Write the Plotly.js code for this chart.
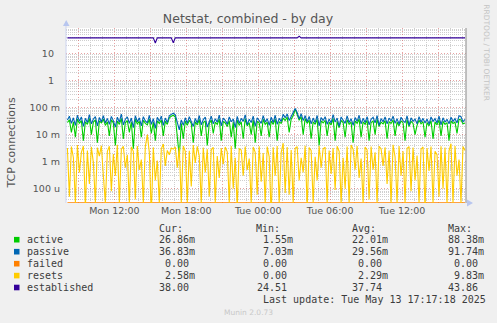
<!DOCTYPE html>
<html><head><meta charset="utf-8">
<script src="https://cdn.plot.ly/plotly-3.0.1.min.js"></script>
<style>html,body{margin:0;padding:0;background:#F0F0F0;}#chart{width:497px;height:323px;}</style>
</head><body><div id="chart"></div>
<script>
// ---- data (values in milli-units for active/passive/resets; 10-minute samples from Mon 08:05) ----
const startTime = Date.UTC(2025, 4, 12, 8, 5);
const stepMs = 10 * 60 * 1000;

const activeM = [
28,35,12,30,8,38,26,33,6,30,24,40,10,29,35,5,32,27,37,22,
30,9,35,27,4,32,24,40,7,28,33,12,30,3,37,25,31,8,34,26,
23,38,11,29,6,32,26,35,9,31,24,42,48,52,45,10,1.55,26,7,31,
22,34,26,5,30,23,37,9,28,32,4,26,35,11,29,24,38,6,31,27,
20,33,8,29,3,34,22,30,7,39,21,28,10,35,5,31,27,9,37,24,
29,8,32,24,38,6,30,26,41,33,45,12,37,50,88.38,55,34,47,10,39,
26,35,7,30,24,37,4,32,27,34,9,29,23,40,6,31,18,33,28,8,
36,24,29,5,32,26,38,8,30,24,34,6,28,32,10,37,20,29,25,33,
7,30,26,35,9,29,21,32,27,6,36,20,31,26,10,22,34,25,30,8,
28,21,33,7,29,23,35,9,31,24,28,6,32,26,29,11,37,35,25,26.86];

const passiveM = [
35,48,26,42,22,52,31,45,20,40,28,55,25,38,46,21,43,30,50,27,
40,24,47,33,19,44,29,58,23,37,45,26,41,18,50,30,42,21,46,32,
27,52,24,39,17,44,31,48,22,41,28,50,56,62,54,26,15,35,22,42,
26,46,31,20,40,27,51,23,36,44,19,32,48,25,39,29,53,21,41,34,
24,45,30,38,18,47,26,40,31,54,23,37,28,48,20,42,33,26,50,29,
39,22,44,28,52,24,40,31,56,42,58,33,47,64,91.74,66,38,60,33,50,
30,47,25,41,28,51,21,43,33,46,24,38,27,55,29,41,20,45,34,26,
49,28,39,22,43,31,52,25,40,28,46,23,37,44,27,50,22,39,30,45,
25,41,32,48,26,39,24,44,33,28,49,22,42,31,38,25,46,29,40,27,
38,24,45,31,39,27,48,23,42,29,37,25,44,31,39,27,50,46,30,36.83];

const failedM = new Array(200).fill(0);

const resetsM = [
3.2,0.05,3.6,1.4,0,4.1,0.4,2.2,3.8,0.02,2.6,0.15,3.5,0.9,0,3.3,1.6,3.9,0.3,0,
2.4,3.7,0.08,1.9,0.3,4.2,0,2.9,3.7,0.6,1.8,0,3.5,2.4,0.04,3.8,0.5,1.2,0,3.6,
9.83,2.2,0.01,3.4,0.2,1.1,0,3.0,4.5,0.7,2.6,1.8,3.2,2.9,3.5,0.6,3.3,0.03,3.8,2.4,
0,2.5,0.12,4.1,0.9,3.7,1.6,0,3.3,0.4,2.9,0.05,2.8,3.4,0,1.6,0.25,3.2,0.8,3.5,
2.3,0,3.8,0.1,1.4,0.02,3.0,2.7,0.3,3.6,0.5,1.3,0,3.5,2.2,0.06,3.7,0.18,2.1,0,
3.6,1.5,0.01,3.4,0.3,3.8,0,2.2,4.8,0.07,3.5,0.06,2.7,0,3.1,3.6,0.2,1.4,0.4,3.9,
0.02,3.3,2.6,0,1.5,0.2,3.8,0.6,3.0,3.4,0,2.6,0.35,3.2,0.09,3.7,2.4,0,1.4,0.1,
3.6,0.03,4.1,2.9,0.5,3.8,0.25,1.3,0,3.5,2.7,0.04,3.6,0.5,2.2,0,3.7,3.0,0.7,3.4,
0.15,2.6,0,4.2,1.5,0.03,3.8,0.3,2.4,0,3.1,3.6,0.08,3.3,0.2,1.7,0,2.9,3.5,0.02,
3.2,0.45,3.6,0,2.4,1.8,0.05,3.7,0.1,3.3,0,2.5,4.6,0.03,3.8,0.3,1.2,0,3.6,2.58];

const established = [
38,38,37,38,38,39,38,37,38,38,38,39,38,38,37,38,38,38,39,38,
38,38,37,38,38,38,39,38,38,37,38,38,38,38,39,38,38,37,38,38,
38,38,38,38,24.51,38,38,38,38,38,38,38,38,25,38,38,38,38,38,38,
38,38,39,38,38,38,38,37,38,38,38,38,38,38,38,38,38,38,37,38,
38,38,38,38,38,38,38,38,38,38,38,38,38,38,38,38,38,37,38,38,
38,38,38,38,38,38,38,38,38,38,38,37,38,38,38,38,43.86,38,38,38,
38,38,38,38,38,37,38,38,38,38,38,38,38,38,38,38,38,38,37,38,
38,38,38,38,38,38,38,38,38,38,38,38,38,38,38,39,38,38,38,38,
38,38,38,39,39,38,39,38,39,39,38,39,38,38,38,38,38,39,38,38,
38,38,38,38,38,38,38,38,38,38,38,38,38,38,38,38,38,39,38,38.00];

const seriesNames = ['active','passive','failed','resets','established'];
const seriesColors = ['#00CC00','#0066B3','#FF8000','#FFCC00','#330099'];
const curText = ['26.86m','36.83m','\u00A00.00','\u00A02.58m','38.00'];
const minText = ['\u00A01.55m','\u00A07.03m','\u00A00.00','\u00A00.00','24.51'];
const avgText = ['22.01m','29.56m','\u00A00.00','\u00A02.29m','37.74'];
const maxText = ['88.38m','91.74m','\u00A00.00','\u00A09.83m','43.86'];

const yTickVals = [1e-4,1e-3,1e-2,1e-1,1,10];
const yTickText = ['100 u','1 m','10 m','100 m','1\u00A0\u00A0','10\u00A0\u00A0'];

// ---- build ----
const yRange = [-4.53, 1.945];
const floorVal = Math.pow(10, yRange[0] + 0.012);
const xs = activeM.map((_, i) => startTime + i * stepMs);
const milli = v => v === 0 ? floorVal : v / 1000;
const plain = v => v === 0 ? floorVal : v;
const ySeries = [activeM.map(milli), passiveM.map(milli), failedM.map(milli), resetsM.map(milli), established.map(plain)];

const traces = ySeries.map((ys, k) => ({
  x: xs, y: ys, type: 'scatter', mode: 'lines', name: seriesNames[k],
  line: {color: seriesColors[k], width: 1.1}, hoverinfo: 'skip'
}));

const minorY = [];
for (let e = -5; e <= 1; e++) for (let d = 2; d <= 9; d++) minorY.push(d * Math.pow(10, e));

const L = 66, R = 466, T = 28, B = 203;
const px = x => (x - L) / (R - L);
const py = y => (B - y) / (B - T);

const monoFont = {family: 'DejaVu Sans Mono', size: 10, color: '#3c3c3c'};
const ann = [];
const rowsY = [239.7, 251.7, 263.7, 275.6, 287.5];
const mono = (x, y, text) => ann.push({xref:'paper', yref:'paper', x: px(x), y: py(y), text, showarrow:false,
  xanchor:'left', yanchor:'middle', font: monoFont, borderpad:0});
mono(158, 228, 'Cur:'); mono(255, 228, 'Min:'); mono(351, 228, 'Avg:'); mono(446.7, 228, 'Max:');
const shapes = [];
seriesNames.forEach((n, i) => {
  mono(26.3, rowsY[i], n);
  mono(158, rowsY[i], curText[i]);
  mono(255.5, rowsY[i], minText[i]);
  mono(351, rowsY[i], avgText[i]);
  mono(446.7, rowsY[i], maxText[i]);
  shapes.push({type:'rect', xref:'paper', yref:'paper', x0: px(14), x1: px(19.5), y0: py(rowsY[i] + 2.8), y1: py(rowsY[i] - 2.8),
    fillcolor: seriesColors[i], line: {width: 0}});
});
mono(261.7, 299.7, 'Last update: Tue May 13 17:17:18 2025');

ann.push({xref:'paper', yref:'paper', x: px(10.5), y: py(143), text:'TCP connections', textangle:-90, showarrow:false,
  xanchor:'center', yanchor:'middle', font:{family:'DejaVu Sans', size:11, color:'#555'}});
ann.push({xref:'paper', yref:'paper', x: px(486.7), y: py(53), text:'RRDTOOL / TOBI OETIKER', textangle:90, showarrow:false,
  xanchor:'center', yanchor:'middle', font:{family:'DejaVu Sans', size:7.5, color:'#c4c4c4'}});
ann.push({xref:'paper', yref:'paper', x: px(248), y: py(312), text:'Munin 2.0.73', showarrow:false,
  xanchor:'center', yanchor:'middle', font:{family:'DejaVu Sans', size:7.5, color:'#c8c8c8'}});

// axis decorations
shapes.push({type:'line', xref:'paper', yref:'paper', x0: px(66), x1: px(66), y0: py(203), y1: py(24), line:{color:'#cdd4f0', width:1}});
shapes.push({type:'path', xref:'paper', yref:'paper', path:`M ${px(63)},${py(26)} L ${px(69.5)},${py(26)} L ${px(66.2)},${py(20)} Z`, fillcolor:'#b8c6ef', line:{width:0}});
shapes.push({type:'path', xref:'paper', yref:'paper', path:`M ${px(467)},${py(199.5)} L ${px(467)},${py(206.5)} L ${px(473)},${py(203)} Z`, fillcolor:'#b8c6ef', line:{width:0}});
shapes.push({type:'line', xref:'paper', yref:'paper', x0: 1, x1: 1, y0: 0, y1: 1, line:{color:'#9a9a9a', width:1.2}});

const layout = {
  width: 497, height: 323,
  margin: {l: L, r: 497 - R, t: T, b: 323 - B, pad: 0},
  paper_bgcolor: '#F0F0F0', plot_bgcolor: '#FFFFFF',
  showlegend: false,
  title: {text: 'Netstat, combined - by day', x: 0.499, xanchor: 'center', y: 1 - 19/323, yanchor: 'middle', yref: 'container',
    font: {family: 'DejaVu Sans', size: 12.5, color: '#555'}},
  xaxis: {
    type: 'date', range: ['2025-05-12 07:58', '2025-05-13 17:20'],
    tick0: '2025-05-12 00:00', dtick: 3 * 3600 * 1000, ticklabelstep: 2, tickformat: '%a %H:%M',
    ticks: '', showgrid: true, gridcolor: 'rgba(215,90,90,0.55)', griddash: '1px,2px', gridwidth: 1,
    minor: {dtick: 3600 * 1000, showgrid: true, gridcolor: '#cfcfcf', griddash: '1px,1px', gridwidth: 1},
    tickfont: {family: 'DejaVu Sans', size: 9.5, color: '#555'},
    showline: false, zeroline: false, fixedrange: true
  },
  yaxis: {
    type: 'log', range: yRange, tickmode: 'array', tickvals: yTickVals, ticktext: yTickText,
    ticks: '', ticklabelstandoff: 5, showgrid: true, gridcolor: 'rgba(215,90,90,0.55)', griddash: '1px,2px', gridwidth: 1,
    minor: {tickmode: 'array', tickvals: minorY, showgrid: true, gridcolor: '#cfcfcf', griddash: '1px,1px', gridwidth: 1},
    tickfont: {family: 'DejaVu Sans', size: 9.5, color: '#555'},
    showline: false, zeroline: false, fixedrange: true
  },
  annotations: ann, shapes: shapes
};

Plotly.newPlot('chart', traces, layout, {staticPlot: true, displayModeBar: false});
</script>
</body></html>
